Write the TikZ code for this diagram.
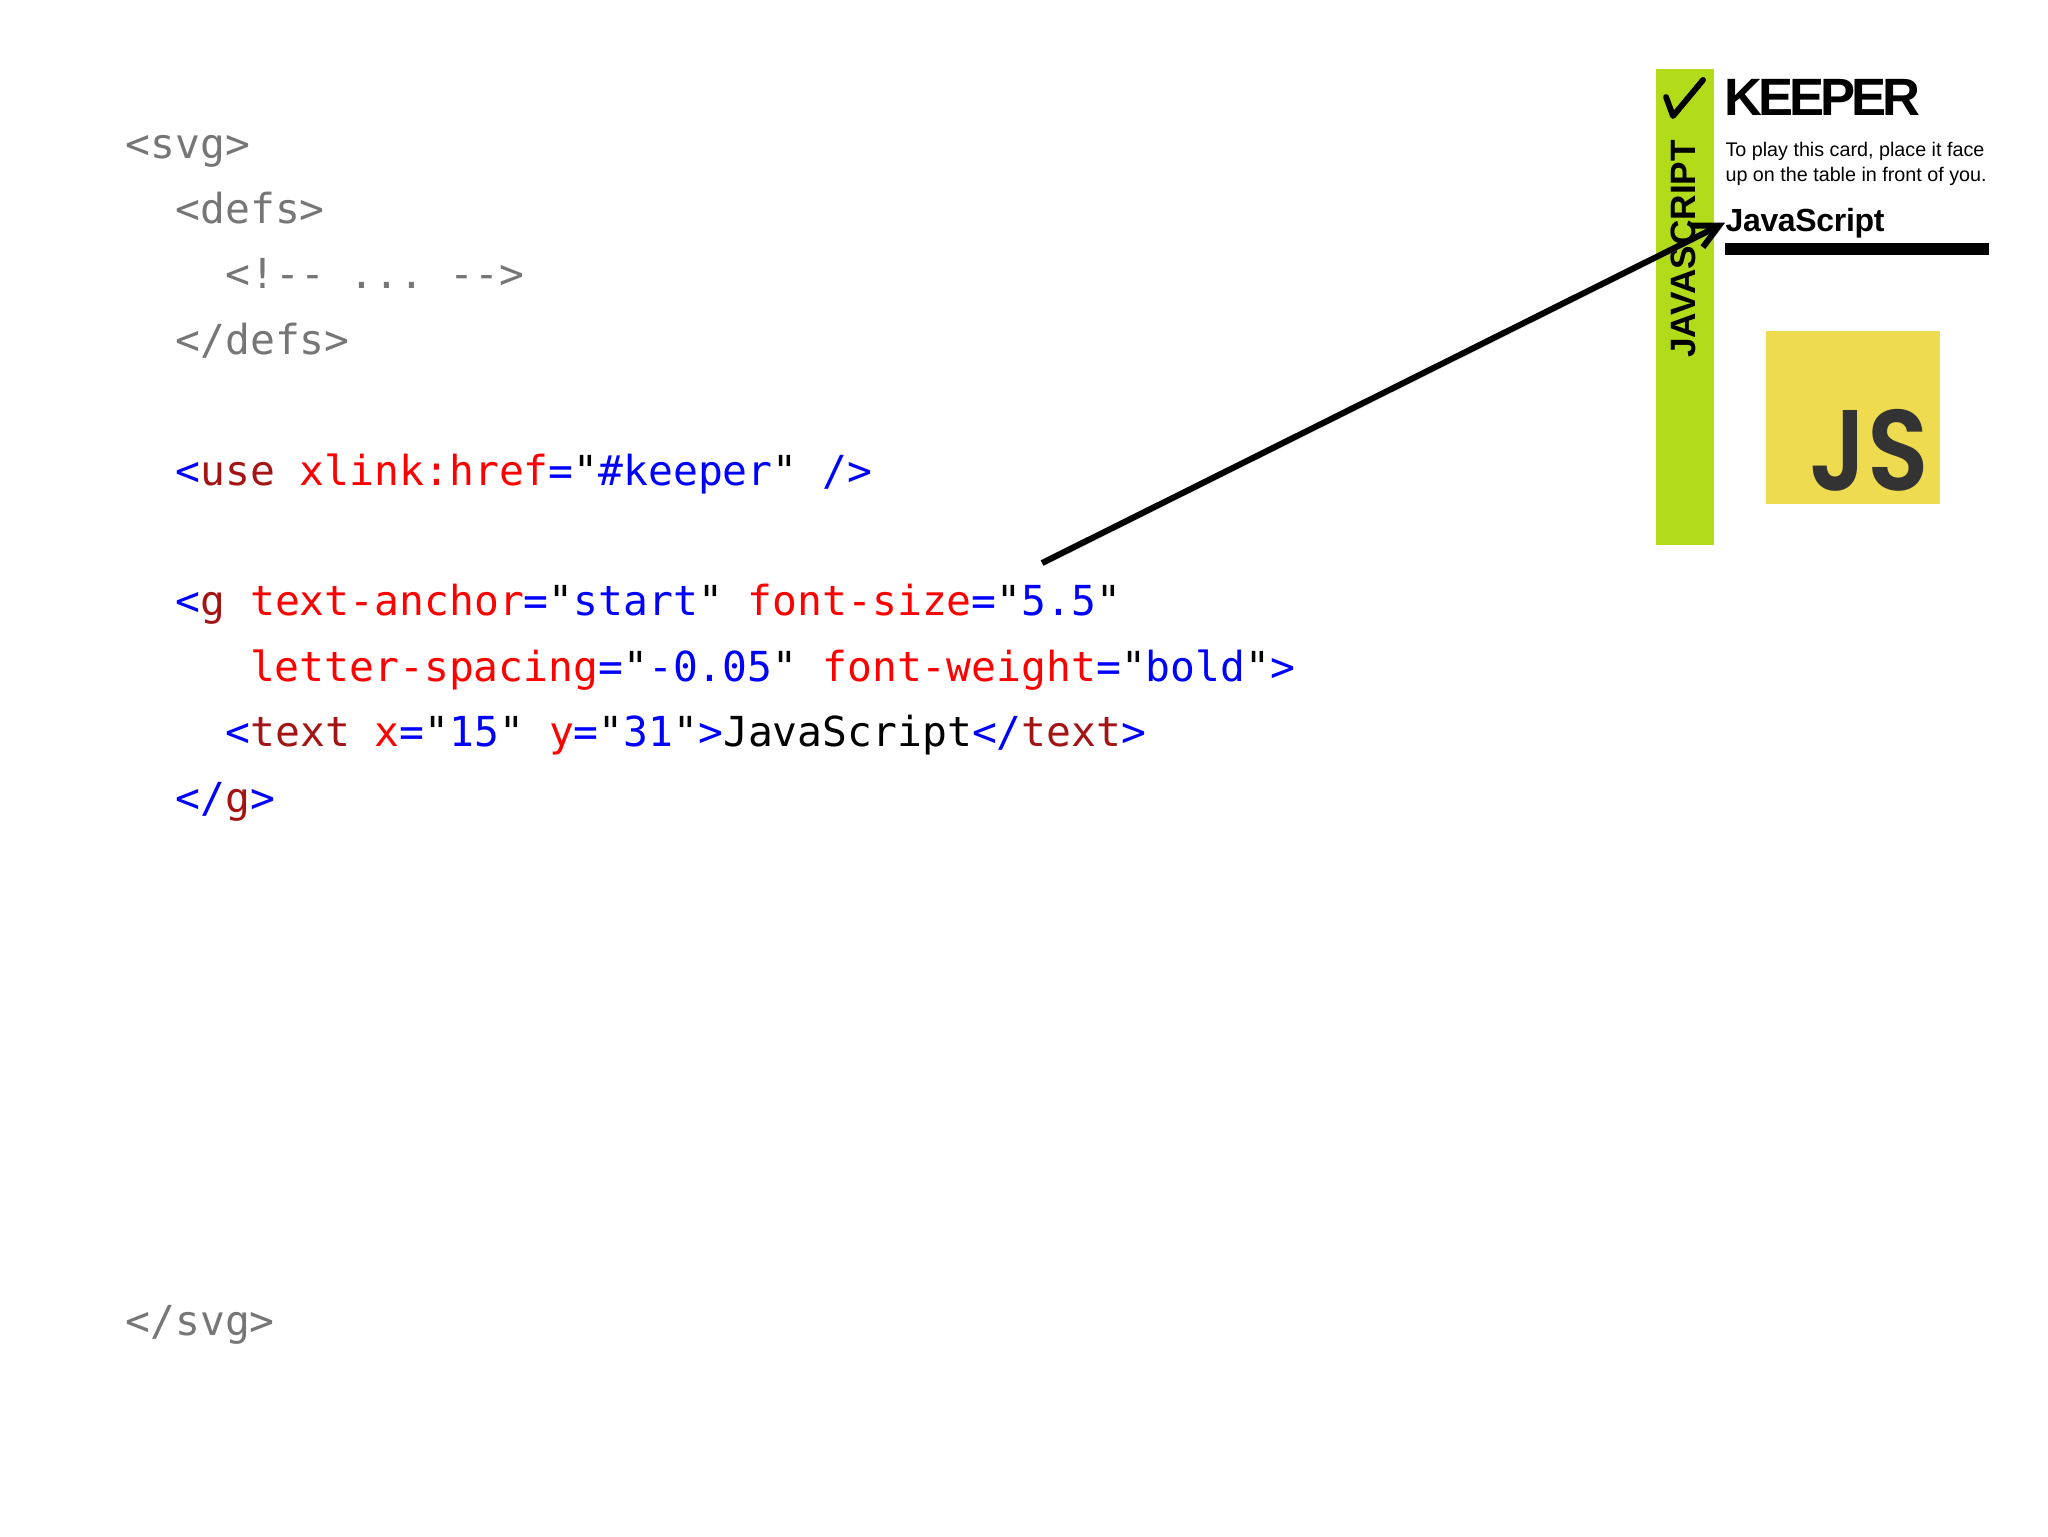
\documentclass[tikz,border=0pt]{standalone}
\usepackage{fontspec}
\usetikzlibrary{arrows.meta}
\setmainfont{Liberation Sans}
\newfontfamily\codefont{DejaVu Sans Mono}
\newfontfamily\tightfont[LetterSpace=-7.8]{Liberation Sans Bold}
\newfontfamily\namefont[LetterSpace=-1]{Liberation Sans Bold}
\newfontfamily\logofont[FakeStretch=.88]{Poppins SemiBold}
\definecolor{codegrey}{HTML}{767676}
\definecolor{codeblue}{HTML}{0000FF}
\definecolor{codered}{HTML}{FF0000}
\definecolor{codedark}{HTML}{A31515}
\definecolor{cardgreen}{HTML}{B2DC1A}
\definecolor{logoyellow}{HTML}{EFDB4F}
\definecolor{logodark}{HTML}{333333}
\newcommand{\cblue}[1]{\textcolor{codeblue}{#1}}
\newcommand{\cdark}[1]{\textcolor{codedark}{#1}}
\newcommand{\cattr}[2]{\textcolor{codered}{#1}\cblue{=}"\cblue{#2}"}
\tikzset{
  codeline/.style={anchor=base west,inner sep=0pt,font=\codefont\frenchspacing\fontsize{15.5}{18}\selectfont},
  greyline/.style={codeline,text=codegrey},
  cardtext/.style={anchor=base west,inner sep=0pt},
  ruletext/.style={cardtext,font=\frenchspacing\fontsize{7.4}{9}\selectfont},
  pointer/.style={line width=2.25pt,-{Straight Barb[length=9pt,width=9pt,line width=2.25pt]},
    preaction={draw,black!35,opacity=.45,transform canvas={xshift=.8pt,yshift=-.9pt}}}
}
\begin{document}
\begin{tikzpicture}[x=.375pt,y=-.375pt]
  \useasboundingbox (0,0) rectangle (2048,1536);

  % The code on the left, one node per line
  \node[greyline] (svgopen) at (125,158) {<svg>};
  \node[greyline] (defsopen) at (175,223.4) {<defs>};
  \node[greyline] (comment) at (225,288.8) {<!-- ... -->};
  \node[greyline] (defsclose) at (175,354.2) {</defs>};
  \node[codeline] (useline) at (175,485) {\cblue{<}\cdark{use} \cattr{xlink:href}{\#keeper} \cblue{/>}};
  \node[codeline] (gopen) at (175,615.8) {\cblue{<}\cdark{g} \cattr{text-anchor}{start} \cattr{font-size}{5.5}};
  \node[codeline] (gopentwo) at (249.5,681.2) {\cattr{letter-spacing}{-0.05} \cattr{font-weight}{bold}\cblue{>}};
  \node[codeline] (textline) at (225,746.6) {\cblue{<}\cdark{text} \cattr{x}{15} \cattr{y}{31}\cblue{>}JavaScript\cblue{</}\cdark{text}\cblue{>}};
  \node[codeline] (gclose) at (175,812) {\cblue{</}\cdark{g}\cblue{>}};
  \node[greyline] (svgclose) at (125,1335) {</svg>};

  % The card on the right
  \fill[cardgreen] (1656,69) rectangle (1714,545);
  \draw[line width=2.2pt,line cap=round,line join=round] (1666,97) -- (1673,116) -- (1703,80);
  \node[inner sep=0pt,rotate=90,anchor=base,font=\bfseries\fontsize{13.2}{15}\selectfont] (sidelabel) at (1695,249) {JAVASCRIPT};
  \node[cardtext,font=\tightfont\fontsize{19.7}{22}\selectfont] (keeper) at (1724,115) {KEEPER};
  \node[ruletext] (ruleone) at (1725,156.5) {To play this card, place it face};
  \node[ruletext] (ruletwo) at (1725,181.5) {up on the table in front of you.};
  \node[cardtext,font=\namefont\fontsize{12}{14}\selectfont] (language) at (1725,231) {JavaScript};
  \fill[black] (1725,243) rectangle (1989,255);

  % The logo
  \fill[logoyellow] (1766,331) rectangle (1940,504);
  \node[anchor=base east,inner sep=0pt,text=logodark,font=\logofont\fontsize{43}{48}\selectfont] (logo) at (1929,490) {JS};

  % Arrow from the code to the card
  \coordinate (pointerstart) at (1042,563);
  \draw[pointer] (pointerstart) -- (language.west);
\end{tikzpicture}
\end{document}
